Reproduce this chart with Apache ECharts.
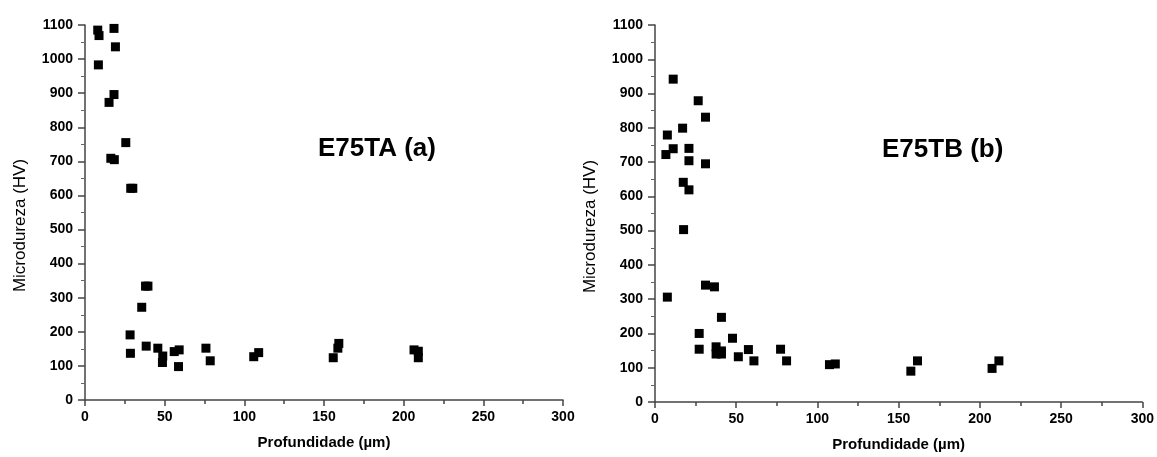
<!DOCTYPE html>
<html>
<head>
<meta charset="utf-8">
<script src="https://cdn.jsdelivr.net/npm/echarts@6/dist/echarts.min.js"></script>
<style>
  html, body { margin: 0; padding: 0; background: #fff; }
  #chart { width: 1157px; height: 457px; }
</style>
</head>
<body>
<div id="chart"></div>
<script>
// E75TA (a) – depth (µm) and microhardness (HV)
const depthA = [8.0, 8.8, 18.2, 19.1, 8.4, 18.2, 15.1, 25.6, 16.2, 18.4, 28.7, 30.0,
  38.0, 39.5, 35.6, 28.3, 28.5, 38.4, 45.7, 48.8, 48.6, 56.0, 59.1, 58.7, 75.9, 78.6,
  105.9, 109.0, 159.3, 158.7, 155.8, 206.5, 209.2, 209.2];
const hardA = [1085, 1069, 1090, 1036, 983, 896, 873, 755, 709, 705, 621, 621,
  334, 334, 272, 191, 137, 158, 152, 129, 110, 142, 147, 98, 152, 115,
  127, 139, 166, 152, 124, 147, 143, 124];

// E75TB (b)
const depthB = [11.2, 26.6, 31.1, 17.0, 7.6, 11.2, 6.7, 20.9, 20.9, 31.1, 17.4, 20.9,
  17.6, 7.6, 31.1, 36.6, 40.9, 27.2, 27.2, 47.7, 37.6, 40.9, 37.6, 40.9, 51.3, 57.5,
  60.9, 77.3, 81.0, 107.4, 111.0, 161.6, 157.5, 211.7, 207.5];
const hardB = [942, 879, 831, 799, 779, 739, 722, 740, 704, 695, 641, 619,
  503, 306, 341, 336, 247, 200, 154, 186, 161, 149, 140, 140, 132, 153,
  120, 154, 120, 109, 111, 120, 90, 120, 98];

const titles = ['E75TA (a)', 'E75TB (b)'];
const xName = 'Profundidade (µm)';
const yName = 'Microdureza (HV)';

const chart = echarts.init(document.getElementById('chart'));

const font = 'Liberation Sans, Arial, sans-serif';

const pairs = (xs, ys) => xs.map((x, i) => [x, ys[i]]);

const xAxisBase = (gridIndex) => ({
  gridIndex,
  type: 'value',
  min: 0,
  max: 300,
  interval: 50,
  name: xName,
  nameLocation: 'middle',
  nameGap: 35,
  nameTextStyle: { color: '#000', fontSize: 15, fontWeight: 'bold', fontFamily: font },
  axisLine: { show: true, lineStyle: { color: '#444', width: 1.5 } },
  axisTick: { show: true, length: 6, lineStyle: { color: '#444', width: 1.5 } },
  minorTick: { show: true, splitNumber: 2, length: 4, lineStyle: { color: '#444', width: 1.5 } },
  axisLabel: {
    color: '#000', fontSize: 14, fontWeight: 'bold', fontFamily: font, margin: 10,
    formatter: (v) => String(v)
  },
  splitLine: { show: false }
});

const yAxisBase = (gridIndex) => ({
  gridIndex,
  type: 'value',
  min: 0,
  max: 1100,
  interval: 100,
  name: yName,
  nameLocation: 'middle',
  nameGap: 56,
  nameTextStyle: { color: '#000', fontSize: 17, fontFamily: font, padding: [0, 0, 0, -26] },
  axisLine: { show: true, lineStyle: { color: '#444', width: 1.5 } },
  axisTick: { show: true, length: 7, lineStyle: { color: '#444', width: 1.5 } },
  minorTick: { show: true, splitNumber: 2, length: 4, lineStyle: { color: '#666', width: 1 } },
  axisLabel: {
    color: '#000', fontSize: 14, fontWeight: 'bold', fontFamily: font, margin: 12,
    formatter: (v) => String(v)
  },
  splitLine: { show: false }
});

const option = {
  backgroundColor: '#fff',
  animation: false,
  grid: [
    { left: 85, top: 25, width: 478, height: 375 },
    { left: 655, top: 25, width: 489, height: 378 }
  ],
  xAxis: [xAxisBase(0), xAxisBase(1)],
  yAxis: [yAxisBase(0), yAxisBase(1)],
  graphic: [
    {
      type: 'text', left: 318, top: 136,
      style: { text: titles[0], fill: '#000', font: 'bold 26px ' + font }
    },
    {
      type: 'text', left: 882, top: 137,
      style: { text: titles[1], fill: '#000', font: 'bold 26px ' + font }
    }
  ],
  series: [
    {
      type: 'scatter',
      xAxisIndex: 0,
      yAxisIndex: 0,
      symbol: 'rect',
      symbolSize: 9,
      itemStyle: { color: '#000', opacity: 1 },
      data: pairs(depthA, hardA)
    },
    {
      type: 'scatter',
      xAxisIndex: 1,
      yAxisIndex: 1,
      symbol: 'rect',
      symbolSize: 9,
      itemStyle: { color: '#000', opacity: 1 },
      data: pairs(depthB, hardB)
    }
  ]
};

chart.setOption(option);
</script>
</body>
</html>
